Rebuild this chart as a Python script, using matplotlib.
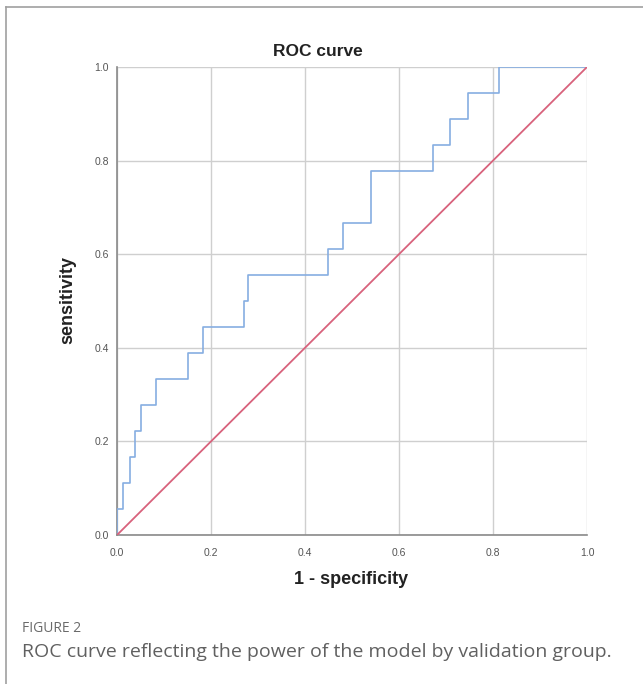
import matplotlib
matplotlib.use('Agg')
import matplotlib.pyplot as plt
from matplotlib.lines import Line2D
import numpy as np

# ROC points (vertical step first, then horizontal)
fpr = [0, 0.013, 0.028, 0.038, 0.052, 0.083, 0.150, 0.182, 0.271, 0.278,
       0.448, 0.480, 0.540, 0.672, 0.709, 0.747, 0.813, 1.0]
tpr_count = [0, 1, 2, 3, 4, 5, 6, 7, 8, 9, 10, 11, 12, 14, 15, 16, 17, 18]
n_pos = 18
ticks = [0.0, 0.2, 0.4, 0.6, 0.8, 1.0]
tick_labels = ['0.0', '0.2', '0.4', '0.6', '0.8', '1.0']

tpr = np.array(tpr_count) / n_pos

W, H = 643, 684
fig = plt.figure(figsize=(W / 100, H / 100), dpi=100)

# panel border (left and top)
fig.add_artist(Line2D([6 / W, 6 / W], [0, 1 - 7 / H], color='#a0a0a0', lw=1.2))
fig.add_artist(Line2D([6 / W, 1], [1 - 7 / H, 1 - 7 / H], color='#a0a0a0', lw=1.2))

ax = fig.add_axes([117 / W, 1 - 535 / H, 470 / W, 468 / H])
ax.plot(fpr, tpr, drawstyle='steps-pre', color='#86aee2', lw=1.2, zorder=3)
ax.plot([0, 1], [0, 1], color='#d8627c', lw=1.3, zorder=3)

ax.set_xlim(0, 1)
ax.set_ylim(0, 1)
ax.set_xticks(ticks)
ax.set_yticks(ticks)
ax.set_xticklabels(tick_labels)
ax.set_yticklabels(tick_labels)
ax.grid(True, color='#cfcfcf', lw=1.0)
ax.set_axisbelow(True)
for s in ['top', 'right']:
    ax.spines[s].set_visible(False)
for s in ['left', 'bottom']:
    ax.spines[s].set_color('#8a8a8a')
    ax.spines[s].set_linewidth(1.2)
ax.tick_params(length=0, labelsize=7.5, labelcolor='#555555')
ax.tick_params(axis='x', pad=9)
ax.tick_params(axis='y', pad=6)
for lab in ax.get_xticklabels() + ax.get_yticklabels():
    lab.set_family('Liberation Sans')

fig.text(318 / W, 1 - 52 / H, 'ROC curve', ha='center', va='center',
         fontsize=12.5, fontweight='bold', family='Liberation Sans', color='#222222')
fig.text(351 / W, 1 - 580 / H, '1 - specificity', ha='center', va='center',
         fontsize=13, fontweight='bold', family='Liberation Sans', color='#222222')
fig.text(68 / W, 1 - 300 / H, 'sensitivity', ha='center', va='center', rotation=90,
         fontsize=13, fontweight='bold', family='Liberation Sans', color='#222222')

fig.text(22 / W, 1 - 628 / H, 'FIGURE 2', ha='left', va='center',
         fontsize=10, family='Open Sans', color='#6a6a6a')
fig.text(22 / W, 1 - 652 / H, 'ROC curve reflecting the power of the model by validation group.',
         ha='left', va='center', fontsize=14, family='Open Sans', color='#606060')

fig.savefig('out.png', dpi=100)
